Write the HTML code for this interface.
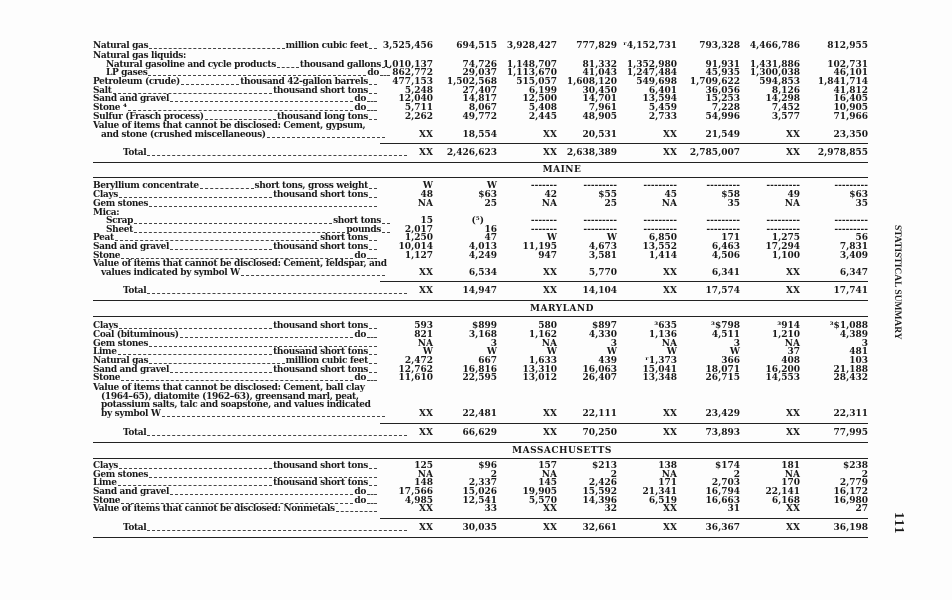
<!DOCTYPE html>
<html><head><meta charset="utf-8"><style>
body{margin:0;background:#fff;}
#p{position:relative;width:952px;height:600px;overflow:hidden;background:#fdfdfd;font-family:"DejaVu Serif","Liberation Serif",serif;font-weight:bold;font-size:9px;color:#1a1a1a;line-height:11px;}
i{font-style:normal;}
.r{position:absolute;left:0;width:952px;height:11px;}
.l{position:absolute;left:93px;width:285px;display:flex;white-space:nowrap;letter-spacing:-0.35px;}
.l b{flex:1;border-bottom:1px dashed #444;margin:0 1px 3px 1px;}
.v{position:absolute;width:64px;text-align:right;white-space:nowrap;}
.a{left:369px}.b{left:433px}.c{left:493px}.d{left:553px}.e{left:613px}.f{left:676px}.g{left:736px}.h{left:804px}
.hl{position:absolute;height:0;border-top:1.5px solid #222;}
.t{position:absolute;width:952px;text-align:center;left:0;letter-spacing:.5px;}
.i1{padding-left:13px}.i2{padding-left:8px}
.rot{position:absolute;transform:rotate(90deg);transform-origin:left top;white-space:nowrap;font-size:9.5px;font-family:"Liberation Serif",serif;}
</style></head><body><div id="p">

<div class="r" style="top:41px"><div class="l"><span>Natural gas</span><b></b><span>million cubic feet</span><b style="flex:0 0 8px"></b></div><i class="v a">3,525,456</i><i class="v b">694,515</i><i class="v c">3,928,427</i><i class="v d">777,829</i><i class="v e">ʳ4,152,731</i><i class="v f">793,328</i><i class="v g">4,466,786</i><i class="v h">812,955</i></div>
<div class="r" style="top:51px"><div class="l"><span>Natural gas liquids:</span></div></div>
<div class="r" style="top:60px"><div class="l i1"><span>Natural gasoline and cycle products</span><b></b><span>thousand gallons</span><b style="flex:0 0 8px"></b></div><i class="v a">1,010,137</i><i class="v b">74,726</i><i class="v c">1,148,707</i><i class="v d">81,332</i><i class="v e">1,352,980</i><i class="v f">91,931</i><i class="v g">1,431,886</i><i class="v h">102,731</i></div>
<div class="r" style="top:68px"><div class="l i1"><span>LP gases</span><b></b><span>do</span><b style="flex:0 0 10px"></b></div><i class="v a">862,772</i><i class="v b">29,037</i><i class="v c">1,113,670</i><i class="v d">41,043</i><i class="v e">1,247,484</i><i class="v f">45,935</i><i class="v g">1,300,038</i><i class="v h">46,101</i></div>
<div class="r" style="top:77px"><div class="l"><span>Petroleum (crude)</span><b></b><span>thousand 42-gallon barrels</span><b style="flex:0 0 8px"></b></div><i class="v a">477,153</i><i class="v b">1,502,568</i><i class="v c">515,057</i><i class="v d">1,608,120</i><i class="v e">549,698</i><i class="v f">1,709,622</i><i class="v g">594,853</i><i class="v h">1,841,714</i></div>
<div class="r" style="top:86px"><div class="l"><span>Salt</span><b></b><span>thousand short tons</span><b style="flex:0 0 8px"></b></div><i class="v a">5,248</i><i class="v b">27,407</i><i class="v c">6,199</i><i class="v d">30,450</i><i class="v e">6,401</i><i class="v f">36,056</i><i class="v g">8,126</i><i class="v h">41,812</i></div>
<div class="r" style="top:94px"><div class="l"><span>Sand and gravel</span><b></b><span>do</span><b style="flex:0 0 10px"></b></div><i class="v a">12,040</i><i class="v b">14,817</i><i class="v c">12,500</i><i class="v d">14,701</i><i class="v e">13,594</i><i class="v f">15,253</i><i class="v g">14,298</i><i class="v h">16,405</i></div>
<div class="r" style="top:103px"><div class="l"><span>Stone ⁴</span><b></b><span>do</span><b style="flex:0 0 10px"></b></div><i class="v a">5,711</i><i class="v b">8,067</i><i class="v c">5,408</i><i class="v d">7,961</i><i class="v e">5,459</i><i class="v f">7,228</i><i class="v g">7,452</i><i class="v h">10,905</i></div>
<div class="r" style="top:112px"><div class="l"><span>Sulfur (Frasch process)</span><b></b><span>thousand long tons</span><b style="flex:0 0 8px"></b></div><i class="v a">2,262</i><i class="v b">49,772</i><i class="v c">2,445</i><i class="v d">48,905</i><i class="v e">2,733</i><i class="v f">54,996</i><i class="v g">3,577</i><i class="v h">71,966</i></div>
<div class="r" style="top:121px"><div class="l"><span>Value of items that cannot be disclosed: Cement, gypsum,</span></div></div>
<div class="r" style="top:130px"><div class="l i2"><span>and stone (crushed miscellaneous)</span><b></b></div><i class="v a">XX</i><i class="v b">18,554</i><i class="v c">XX</i><i class="v d">20,531</i><i class="v e">XX</i><i class="v f">21,549</i><i class="v g">XX</i><i class="v h">23,350</i></div>
<div class="hl" style="top:143px;left:380px;width:488px"></div>
<div class="r" style="top:148px"><div class="l" style="padding-left:30px"><span>Total</span><b></b></div><i class="v a">XX</i><i class="v b">2,426,623</i><i class="v c">XX</i><i class="v d">2,638,389</i><i class="v e">XX</i><i class="v f">2,785,007</i><i class="v g">XX</i><i class="v h">2,978,855</i></div>
<div class="hl" style="top:162px;left:93px;width:775px"></div>
<div class="t" style="top:165px;left:86px">MAINE</div>
<div class="hl" style="top:177px;left:93px;width:775px"></div>

<div class="r" style="top:181px"><div class="l"><span>Beryllium concentrate</span><b></b><span>short tons, gross weight</span><b style="flex:0 0 8px"></b></div><i class="v a">W</i><i class="v b">W</i><i class="v c">-------</i><i class="v d">---------</i><i class="v e">---------</i><i class="v f">---------</i><i class="v g">---------</i><i class="v h">---------</i></div>
<div class="r" style="top:190px"><div class="l"><span>Clays</span><b></b><span>thousand short tons</span><b style="flex:0 0 8px"></b></div><i class="v a">48</i><i class="v b">$63</i><i class="v c">42</i><i class="v d">$55</i><i class="v e">45</i><i class="v f">$58</i><i class="v g">49</i><i class="v h">$63</i></div>
<div class="r" style="top:199px"><div class="l"><span>Gem stones</span><b></b></div><i class="v a">NA</i><i class="v b">25</i><i class="v c">NA</i><i class="v d">25</i><i class="v e">NA</i><i class="v f">35</i><i class="v g">NA</i><i class="v h">35</i></div>
<div class="r" style="top:208px"><div class="l"><span>Mica:</span></div></div>
<div class="r" style="top:216px"><div class="l i1"><span>Scrap</span><b></b><span>short tons</span><b style="flex:0 0 8px"></b></div><i class="v a">15</i><i class="v b" style="left:420px">(⁵)</i><i class="v c">-------</i><i class="v d">---------</i><i class="v e">---------</i><i class="v f">---------</i><i class="v g">---------</i><i class="v h">---------</i></div>
<div class="r" style="top:225px"><div class="l i1"><span>Sheet</span><b></b><span>pounds</span><b style="flex:0 0 8px"></b></div><i class="v a">2,017</i><i class="v b">16</i><i class="v c">-------</i><i class="v d">---------</i><i class="v e">---------</i><i class="v f">---------</i><i class="v g">---------</i><i class="v h">---------</i></div>
<div class="r" style="top:233px"><div class="l"><span>Peat</span><b></b><span>short tons</span><b style="flex:0 0 8px"></b></div><i class="v a">1,250</i><i class="v b">47</i><i class="v c">W</i><i class="v d">W</i><i class="v e">6,850</i><i class="v f">171</i><i class="v g">1,275</i><i class="v h">56</i></div>
<div class="r" style="top:242px"><div class="l"><span>Sand and gravel</span><b></b><span>thousand short tons</span><b style="flex:0 0 8px"></b></div><i class="v a">10,014</i><i class="v b">4,013</i><i class="v c">11,195</i><i class="v d">4,673</i><i class="v e">13,552</i><i class="v f">6,463</i><i class="v g">17,294</i><i class="v h">7,831</i></div>
<div class="r" style="top:251px"><div class="l"><span>Stone</span><b></b><span>do</span><b style="flex:0 0 10px"></b></div><i class="v a">1,127</i><i class="v b">4,249</i><i class="v c">947</i><i class="v d">3,581</i><i class="v e">1,414</i><i class="v f">4,506</i><i class="v g">1,100</i><i class="v h">3,409</i></div>
<div class="r" style="top:259px"><div class="l"><span>Value of items that cannot be disclosed: Cement, feldspar, and</span></div></div>
<div class="r" style="top:268px"><div class="l i2"><span>values indicated by symbol W</span><b></b></div><i class="v a">XX</i><i class="v b">6,534</i><i class="v c">XX</i><i class="v d">5,770</i><i class="v e">XX</i><i class="v f">6,341</i><i class="v g">XX</i><i class="v h">6,347</i></div>
<div class="hl" style="top:281px;left:380px;width:488px"></div>
<div class="r" style="top:286px"><div class="l" style="padding-left:30px"><span>Total</span><b></b></div><i class="v a">XX</i><i class="v b">14,947</i><i class="v c">XX</i><i class="v d">14,104</i><i class="v e">XX</i><i class="v f">17,574</i><i class="v g">XX</i><i class="v h">17,741</i></div>
<div class="hl" style="top:300px;left:93px;width:775px"></div>
<div class="t" style="top:304px;left:86px">MARYLAND</div>
<div class="hl" style="top:316px;left:93px;width:775px"></div>

<div class="r" style="top:321px"><div class="l"><span>Clays</span><b></b><span>thousand short tons</span><b style="flex:0 0 8px"></b></div><i class="v a">593</i><i class="v b">$899</i><i class="v c">580</i><i class="v d">$897</i><i class="v e">³635</i><i class="v f">³$798</i><i class="v g">³914</i><i class="v h">³$1,088</i></div>
<div class="r" style="top:330px"><div class="l"><span>Coal (bituminous)</span><b></b><span>do</span><b style="flex:0 0 10px"></b></div><i class="v a">821</i><i class="v b">3,168</i><i class="v c">1,162</i><i class="v d">4,330</i><i class="v e">1,136</i><i class="v f">4,511</i><i class="v g">1,210</i><i class="v h">4,389</i></div>
<div class="r" style="top:339px"><div class="l"><span>Gem stones</span><b></b></div><i class="v a">NA</i><i class="v b">3</i><i class="v c">NA</i><i class="v d">3</i><i class="v e">NA</i><i class="v f">3</i><i class="v g">NA</i><i class="v h">3</i></div>
<div class="r" style="top:347px"><div class="l"><span>Lime</span><b></b><span>thousand short tons</span><b style="flex:0 0 8px"></b></div><i class="v a">W</i><i class="v b">W</i><i class="v c">W</i><i class="v d">W</i><i class="v e">W</i><i class="v f">W</i><i class="v g">37</i><i class="v h">481</i></div>
<div class="r" style="top:356px"><div class="l"><span>Natural gas</span><b></b><span>million cubic feet</span><b style="flex:0 0 8px"></b></div><i class="v a">2,472</i><i class="v b">667</i><i class="v c">1,633</i><i class="v d">439</i><i class="v e">ʳ1,373</i><i class="v f">366</i><i class="v g">408</i><i class="v h">103</i></div>
<div class="r" style="top:365px"><div class="l"><span>Sand and gravel</span><b></b><span>thousand short tons</span><b style="flex:0 0 8px"></b></div><i class="v a">12,762</i><i class="v b">16,816</i><i class="v c">13,310</i><i class="v d">16,063</i><i class="v e">15,041</i><i class="v f">18,071</i><i class="v g">16,200</i><i class="v h">21,188</i></div>
<div class="r" style="top:373px"><div class="l"><span>Stone</span><b></b><span>do</span><b style="flex:0 0 10px"></b></div><i class="v a">11,610</i><i class="v b">22,595</i><i class="v c">13,012</i><i class="v d">26,407</i><i class="v e">13,348</i><i class="v f">26,715</i><i class="v g">14,553</i><i class="v h">28,432</i></div>
<div class="r" style="top:383px"><div class="l"><span>Value of items that cannot be disclosed: Cement, ball clay</span></div></div>
<div class="r" style="top:392px"><div class="l i2"><span>(1964–65), diatomite (1962–63), greensand marl, peat,</span></div></div>
<div class="r" style="top:400px"><div class="l i2"><span>potassium salts, talc and soapstone, and values indicated</span></div></div>
<div class="r" style="top:409px"><div class="l i2"><span>by symbol W</span><b></b></div><i class="v a">XX</i><i class="v b">22,481</i><i class="v c">XX</i><i class="v d">22,111</i><i class="v e">XX</i><i class="v f">23,429</i><i class="v g">XX</i><i class="v h">22,311</i></div>
<div class="hl" style="top:423px;left:380px;width:488px"></div>
<div class="r" style="top:428px"><div class="l" style="padding-left:30px"><span>Total</span><b></b></div><i class="v a">XX</i><i class="v b">66,629</i><i class="v c">XX</i><i class="v d">70,250</i><i class="v e">XX</i><i class="v f">73,893</i><i class="v g">XX</i><i class="v h">77,995</i></div>
<div class="hl" style="top:442px;left:93px;width:775px"></div>
<div class="t" style="top:446px;left:86px">MASSACHUSETTS</div>
<div class="hl" style="top:458px;left:93px;width:775px"></div>

<div class="r" style="top:461px"><div class="l"><span>Clays</span><b></b><span>thousand short tons</span><b style="flex:0 0 8px"></b></div><i class="v a">125</i><i class="v b">$96</i><i class="v c">157</i><i class="v d">$213</i><i class="v e">138</i><i class="v f">$174</i><i class="v g">181</i><i class="v h">$238</i></div>
<div class="r" style="top:470px"><div class="l"><span>Gem stones</span><b></b></div><i class="v a">NA</i><i class="v b">2</i><i class="v c">NA</i><i class="v d">2</i><i class="v e">NA</i><i class="v f">2</i><i class="v g">NA</i><i class="v h">2</i></div>
<div class="r" style="top:478px"><div class="l"><span>Lime</span><b></b><span>thousand short tons</span><b style="flex:0 0 8px"></b></div><i class="v a">148</i><i class="v b">2,337</i><i class="v c">145</i><i class="v d">2,426</i><i class="v e">171</i><i class="v f">2,703</i><i class="v g">170</i><i class="v h">2,779</i></div>
<div class="r" style="top:487px"><div class="l"><span>Sand and gravel</span><b></b><span>do</span><b style="flex:0 0 10px"></b></div><i class="v a">17,566</i><i class="v b">15,026</i><i class="v c">19,905</i><i class="v d">15,592</i><i class="v e">21,341</i><i class="v f">16,794</i><i class="v g">22,141</i><i class="v h">16,172</i></div>
<div class="r" style="top:496px"><div class="l"><span>Stone</span><b></b><span>do</span><b style="flex:0 0 10px"></b></div><i class="v a">4,985</i><i class="v b">12,541</i><i class="v c">5,570</i><i class="v d">14,396</i><i class="v e">6,519</i><i class="v f">16,663</i><i class="v g">6,168</i><i class="v h">16,980</i></div>
<div class="r" style="top:504px"><div class="l"><span>Value of items that cannot be disclosed: Nonmetals</span><b></b></div><i class="v a">XX</i><i class="v b">33</i><i class="v c">XX</i><i class="v d">32</i><i class="v e">XX</i><i class="v f">31</i><i class="v g">XX</i><i class="v h">27</i></div>
<div class="hl" style="top:518px;left:380px;width:488px"></div>
<div class="r" style="top:523px"><div class="l" style="padding-left:30px"><span>Total</span><b></b></div><i class="v a">XX</i><i class="v b">30,035</i><i class="v c">XX</i><i class="v d">32,661</i><i class="v e">XX</i><i class="v f">36,367</i><i class="v g">XX</i><i class="v h">36,198</i></div>
<div class="hl" style="top:537px;left:93px;width:775px"></div>

<div class="rot" style="left:902px;top:225px;">STATISTICAL SUMMARY</div>
<div class="rot" style="left:904px;top:512px;font-size:14px;letter-spacing:1px;">111</div>
</div></body></html>
